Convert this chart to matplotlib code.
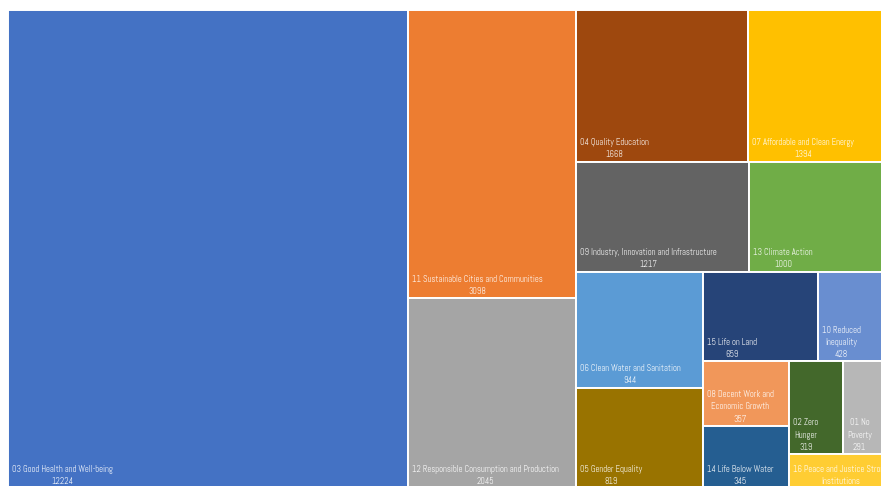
import matplotlib
matplotlib.use("Agg")
import matplotlib.pyplot as plt
from matplotlib.patches import Rectangle

names = ["03 Good Health and Well-being", "11 Sustainable Cities and Communities",
         "12 Responsible Consumption and Production", "04 Quality Education",
         "07 Affordable and Clean Energy", "09 Industry, Innovation and Infrastructure",
         "13 Climate Action", "06 Clean Water and Sanitation", "05 Gender Equality",
         "15 Life on Land", "10 Reduced\nInequality", "08 Decent Work and\nEconomic Growth",
         "14 Life Below Water", "02 Zero\nHunger", "01 No\nPoverty",
         "16 Peace and Justice Strong\nInstitutions"]
values = [12224, 3098, 2045, 1668, 1394, 1217, 1000, 944, 819, 659, 428, 357, 345, 319, 291, 225]
shown = [True] * 15 + [False]
colors = ["#4472C4", "#ED7D31", "#A5A5A5", "#9E480E", "#FFC000", "#636363", "#70AD47", "#5B9BD5",
          "#997300", "#264478", "#698ED0", "#F1975A", "#255E91", "#43682B", "#B7B7B7", "#FFCD33"]

# nesting of the treemap: 'h' splits side by side, 'v' stacks; leaves index the lists above
tree = ("h", [0,
              ("v", [1, 2]),
              ("v", [("h", [3, 4]),
                     ("h", [5, 6]),
                     ("h", [("v", [7, 8]),
                            ("v", [("h", [9, 10]),
                                   ("h", [("v", [11, 12]),
                                          ("v", [("h", [13, 14]), 15])])])])])])

def total(node):
    return values[node] if isinstance(node, int) else sum(total(c) for c in node[1])

def layout(node, x, y, w, h, out):
    if isinstance(node, int):
        out[node] = (x, y, w, h)
        return
    t = total(node)
    for c in node[1]:
        f = total(c) / t
        if node[0] == "h":
            layout(c, x, y, w * f, h, out)
            x += w * f
        else:
            layout(c, x, y, w, h * f, out)
            y += h * f

W, H = 881, 486
fig = plt.figure(figsize=(W / 100, H / 100), dpi=100, facecolor="white")
ax = fig.add_axes([0, 0, 1, 1])
ax.set_xlim(0, W)
ax.set_ylim(H, 0)
ax.axis("off")

rects = {}
layout(tree, 8, 10.5, 884, 478, rects)

font = ["Abel", "Roboto", "DejaVu Sans"]
for i, (x, y, w, h) in rects.items():
    ax.add_patch(Rectangle((x, y), w, h, facecolor=colors[i], edgecolor="white", linewidth=1.4))
    label = names[i] + ("\n" + str(values[i]) if shown[i] else "")
    ax.text(x + 4, y + h - 2.5, label, color="white", fontsize=6.35, family=font,
            ha="left", va="bottom", multialignment="center", linespacing=1.45, alpha=0.92)

fig.savefig("out.png", dpi=100)
